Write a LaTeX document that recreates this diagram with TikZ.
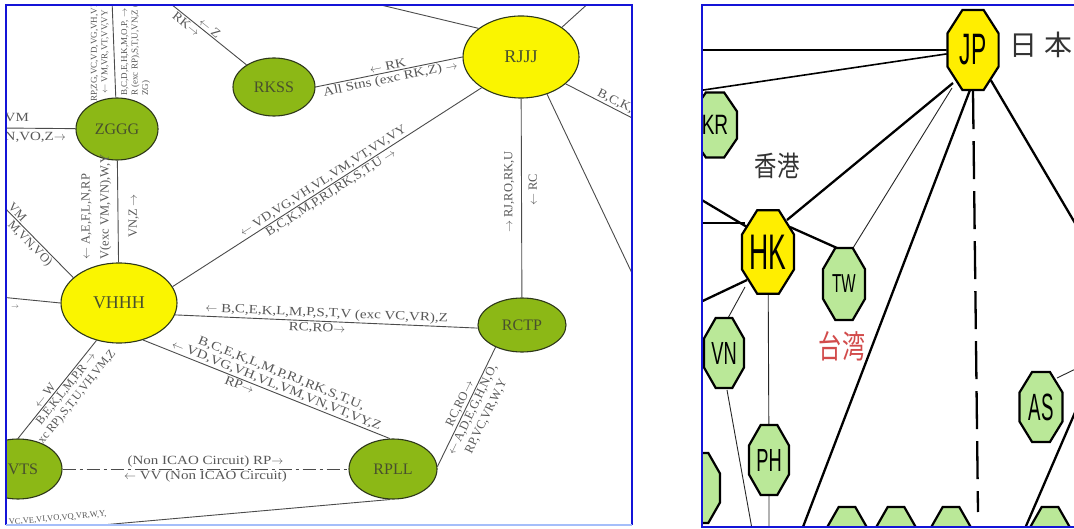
\documentclass[tikz,border=0pt]{standalone}
\usepackage{fontspec}
\setmainfont{Liberation Serif}
\newfontfamily\widefont{Liberation Serif}[FakeStretch=1.2]
\newfontfamily\midfont{Liberation Serif}[FakeStretch=1.1]
\newfontfamily\octfont{Liberation Sans}
\newfontfamily\cjkfont{Noto Sans CJK JP}
\usetikzlibrary{shapes.geometric,calc}
\pgfdeclarelayer{paper}
\pgfdeclarelayer{links}
\pgfsetlayers{paper,links,main}

\definecolor{frameblue}{RGB}{20,20,215}
\definecolor{framelight}{RGB}{165,190,250}
\definecolor{airyellow}{RGB}{250,245,0}
\definecolor{airgreen}{RGB}{140,184,22}
\definecolor{airedge}{RGB}{45,55,25}
\definecolor{airtext}{RGB}{72,80,45}
\definecolor{linkgray}{RGB}{75,75,75}
\definecolor{labelgray}{RGB}{88,88,88}
\definecolor{octyellow}{RGB}{255,238,0}
\definecolor{octgreen}{RGB}{186,232,152}
\definecolor{twred}{RGB}{210,75,75}

\newcommand{\arrL}{$\leftarrow$}
\newcommand{\arrR}{$\rightarrow$}

\begin{document}
\begin{tikzpicture}[x=1pt,y=-1pt,
  airport/.style={ellipse, draw=airedge, line width=1.1pt, inner sep=0pt, text=airtext},
  hub/.style={airport, fill=airyellow, font=\fontsize{18}{18}\selectfont},
  spoke/.style={airport, fill=airgreen, font=\fontsize{16}{16}\selectfont},
  link/.style={draw=linkgray, line width=0.9pt},
  lbl/.style={text=labelgray, font=\fontsize{12.5}{14}\selectfont, inner sep=1.5pt},
  lblw/.style={lbl, font=\widefont\fontsize{12.5}{14}\selectfont},
  lblm/.style={lbl, font=\midfont\fontsize{12.5}{14}\selectfont},
  smalllbl/.style={text=labelgray, font=\fontsize{9}{10.5}\selectfont, inner sep=1pt},
  octo/.style={regular polygon, regular polygon sides=8, draw=black, line width=2.2pt,
               inner sep=0pt, font=\octfont},
  octy/.style={octo, fill=octyellow},
  octg/.style={octo, fill=octgreen},
  thickline/.style={draw=black, line width=2.3pt},
  medline/.style={draw=black, line width=1.6pt},
  thinline/.style={draw=black!85, line width=0.9pt},
  cjktext/.style={font=\cjkfont\fontsize{28}{28}\selectfont, inner sep=0pt}
]
\useasboundingbox (0,0) rectangle (1074,529);
\begin{pgfonlayer}{paper}
\fill[white] (0,0) rectangle (1074,529);
\end{pgfonlayer}

% ---------------- route network of the left chart ----------------
\begin{scope}
\clip (6,5) rectangle (632,525);

\node[hub, minimum width=116pt, minimum height=82pt] (RJJJ) at (521,57) {RJJJ};
\node[spoke, minimum width=82pt, minimum height=58pt] (RKSS) at (274,87) {RKSS};
\node[spoke, minimum width=82pt, minimum height=62pt] (ZGGG) at (117,129) {ZGGG};
\node[hub, minimum width=116pt, minimum height=80pt] (VHHH) at (119,303) {VHHH};
\node[spoke, minimum width=88pt, minimum height=54pt] (RCTP) at (522,325) {RCTP};
\node[spoke, minimum width=88pt, minimum height=60pt] (RPLL) at (393,469) {RPLL};
\node[spoke, minimum width=88pt, minimum height=60pt] (VVTS) at (18,469) {};
\node[text=airtext, font=\fontsize{16}{16}\selectfont, inner sep=0pt] (VVTSname) at (23,469) {VTS};

% free ends leaving the chart
\coordinate (zgN) at (112,0);
\coordinate (zgW) at (0,128);
\coordinate (vhNW) at (0,203);
\coordinate (vhW) at (0,297);
\coordinate (rkNW) at (166,0);
\coordinate (rjNW) at (360,0);
\coordinate (rjNE) at (592,0);
\coordinate (rjE) at (640,122);
\coordinate (rjSE) at (640,290);
\coordinate (rpSW) at (0,534);

% ZGGG
\draw[link] (ZGGG) -- (zgN);
\node[smalllbl, rotate=90, anchor=south, align=center] (tg1) at (110,52)
  {RP,ZG,VC,VD,VG,VH,VL\\\arrL\ VM,VR,VT,VV,VY};
\node[smalllbl, rotate=90, anchor=north west, align=left] (tg2) at (120,97)
  {B,C,D,E,H,K,M,O,P, \arrR\\R (exc RP),S,T,U,VN,Z (exc\\ZG)};
\draw[link] (ZGGG) -- (zgW);
\node[lblw, anchor=west] (tg3) at (3,118) {VM};
\node[lblw, anchor=west] (tg4) at (3,137) {N,VO,Z\arrR};

\draw[link] (ZGGG) -- (VHHH);
\node[lbl, rotate=90, anchor=south west, align=left, font=\fontsize{12.5}{19}\selectfont] (tg5) at (113,261)
  {\arrL\ A,E,F,L,N,RP\\V(exc VM,VN),W,Y};
\node[lbl, rotate=90, anchor=north] (tg6) at (127,216) {VN,Z \arrR};

% VHHH
\draw[link] (VHHH.17) -- (RJJJ.218)
  node[lblm, midway, sloped, above] (tv1) {\arrL\ VD,VG,VH,VL,VM,VT,VV,VY}
  node[lblm, midway, sloped, below] (tv2) {B,C,K,M,P,RJ,RK,S,T,U \arrR};
\draw[link] (VHHH.-12) -- (RCTP.184)
  node[lblw, midway, sloped, above] (tv3) {\arrL\ B,C,E,K,L,M,P,S,T,V (exc VC,VR),Z}
  node[lblw, pos=0.47, sloped, below] (tv4) {RC,RO\arrR};
\draw[link] (VHHH.-57) -- (RPLL.96)
  node[lbl, pos=0.53, sloped, above, align=center, font=\widefont\fontsize{12.5}{13}\selectfont] (tv5)
    {B,C,E,K,L,M,P,RJ,RK,S,T,U,\\\arrL\ VD,VG,VH,VL,VM,VN,VT,VY,Z}
  node[lblw, pos=0.4, sloped, below] (tv6) {RP\arrR};
\draw[link] (VHHH.239) -- (VVTS.90)
  node[lbl, pos=0.6, sloped, above] (tv7) {\arrL\ W}
  node[lbl, pos=0.45, sloped, below, align=center, font=\fontsize{12}{13.5}\selectfont] (tv8)
    {B,E,K,L,M,P,R \arrR\\xc RP),S,T,U,VH,VM,Z};
\draw[link] (VHHH.151) -- (vhNW)
  node[lbl, pos=0.82, sloped, above] (tv9) {VM}
  node[lbl, pos=0.52, sloped, below] (tv10) {M,VN,VO)};
\draw[link] (VHHH.180) -- (vhW);
\node[smalllbl, font=\fontsize{7}{7}\selectfont] (tv11) at (15,307) {\arrR};

% RKSS
\draw[link] (RKSS) -- (rkNW)
  node[lblm, pos=0.5, sloped, above] (tk1) {\arrL\ Z}
  node[lblm, pos=0.7, sloped, below] (tk2) {RK\arrR};
\draw[link] (RKSS.east) -- (RJJJ.west)
  node[lblw, midway, sloped, above] (tk3) {\arrL\ RK}
  node[lblw, midway, sloped, below] (tk4) {All Stns (exc RK,Z) \arrR};

% RJJJ
\draw[link] (RJJJ.146) -- (rjNW);
\draw[link] (RJJJ.36) -- (rjNE);
\draw[link] (RJJJ.-31) -- (rjE)
  node[lblm, pos=0.37, sloped, anchor=south west] (tj1) {B,C,K,};
\draw[link] (RJJJ.-55) -- (rjSE);
\draw[link] (RJJJ) -- (RCTP);
\node[lbl, rotate=90, anchor=south] (tj2) at (516,192) {\arrR\ RJ,RO,RK,U};
\node[lbl, rotate=90, anchor=north] (tj3) at (527,190) {\arrL\ RC};

% RCTP -- RPLL
\draw[link] (RCTP.220) -- (RPLL.3)
  node[lbl, midway, sloped, above] (tc1) {RC,RO\arrR}
  node[lbl, midway, sloped, below, align=center, font=\fontsize{12.5}{15}\selectfont] (tc2)
    {\arrL\ A,D,E,G,H,N,O,\\RP,VC,VR,W,Y};

% RPLL
\draw[link, dash pattern=on 13pt off 4pt on 3pt off 4pt] (VVTS) -- (RPLL)
  node[lblw, midway, above] (tp1) {(Non ICAO Circuit) RP\arrR}
  node[lblw, midway, below] (tp2) {\arrL\ VV (Non ICAO Circuit)};
\draw[link] (RPLL.265) -- (rpSW)
  node[lbl, pos=0.85, sloped, above=5pt, font=\fontsize{8.5}{9}\selectfont] (tp3) {VC,VE,VI,VO,VQ,VR,W,Y,};
\end{scope}

% ---------------- regional chart on the right ----------------
\begin{scope}
\clip (702,5) rectangle (1074,527);
\node[octy, minimum size=86.6pt, xscale=0.64] (JP) at (973,50)
  {\fontsize{44}{44}\selectfont\scalebox{0.81}[1]{JP}};
\node[octg, minimum size=70.3pt, xscale=0.68] (KR) at (715,125)
  {\fontsize{28}{28}\selectfont KR};
\node[octy, minimum size=86.6pt, xscale=0.625] (HK) at (768,252)
  {\fontsize{50}{50}\selectfont\scalebox{0.85}[1]{HK}};
\node[octg, minimum size=77.9pt, xscale=0.583] (TW) at (844,284)
  {\fontsize{26}{26}\selectfont TW};
\node[octg, minimum size=75.8pt, xscale=0.571] (VN) at (724,353)
  {\fontsize{32}{32}\selectfont VN};
\node[octg, minimum size=75.8pt, xscale=0.571] (PH) at (769,460)
  {\fontsize{32}{32}\selectfont PH};
\node[octg, minimum size=75.8pt, xscale=0.614] (AS) at (1041,407)
  {\fontsize{38}{38}\selectfont\scalebox{0.8}[1]{AS}};
\node[octg, minimum size=75.8pt, xscale=0.571] (EDGE) at (700,488) {};
\node[octg, minimum size=75.8pt, xscale=0.571] (B1) at (847,542) {};
\node[octg, minimum size=75.8pt, xscale=0.571] (B2) at (896,542) {};
\node[octg, minimum size=75.8pt, xscale=0.571] (B3) at (951,542) {};
\node[octg, minimum size=75.8pt, xscale=0.571] (B4) at (1050,542) {};

\node[cjktext, text=black!80] (JPname) at (1041,45) {日\hspace{7pt}本};
\node[cjktext, text=black!80] (HKname) at (777,166) {\scalebox{0.8}[1]{香港}};
\node[cjktext, text=twred, font=\cjkfont\fontsize{32}{32}\selectfont] (TWname) at (842,346)
  {\scalebox{0.72}[1]{台湾}};

\coordinate (jpW) at (690,50);
\coordinate (jpW2) at (690,92);
\coordinate (jpS1) at (798,540);
\coordinate (jpS2) at (978,512);
\coordinate (jpE) at (1085,240);
\coordinate (hkW1) at (690,193);
\coordinate (hkW2) at (690,223);
\coordinate (hkW3) at (690,307);
\coordinate (phS) at (769,540);
\coordinate (vnS) at (754,540);
\coordinate (asE) at (1090,362);
\coordinate (sk1) at (1089,380);
\coordinate (sk2) at (1020,540);
\end{scope}

\begin{pgfonlayer}{links}
\begin{scope}
\clip (702,5) rectangle (1074,527);
\draw[medline] (JP) -- (jpW);
\draw[medline] (JP) -- (jpW2);
\draw[thickline] ($(HK)+(19,-32)$) -- ($(JP)+(-20,33)$);
\draw[thinline] ($(TW)+(9,-36)$) -- ($(JP)+(-21,38)$);
\draw[thickline] ($(JP)+(-3,40)$) -- (jpS1);
\draw[thickline, dash pattern=on 38pt off 12pt] (JP.south) -- (jpS2);
\draw[thickline] (JP) -- (jpE);
\draw[thickline] ($(HK)+(-21,-25)$) -- (hkW1);
\draw[medline] ($(HK)+(-23,-29)$) -- (hkW2);
\draw[thickline] ($(HK)+(22,-25)$) -- ($(TW)+(-7,-36)$);
\draw[thickline] ($(HK)+(-21,28)$) -- (hkW3);
\draw[thinline] ($(HK)+(-23,35)$) -- ($(VN)+(4,-35)$);
\draw[thinline] (HK) -- (PH);
\draw[thinline] (PH) -- (phS);
\draw[thinline] ($(VN)+(3,37)$) -- (vnS);
\draw[thinline] ($(AS)+(16,-29)$) -- (asE);
\draw[thickline] (sk1) -- (sk2);
\end{scope}
\end{pgfonlayer}

% ---------------- frames ----------------
\draw[frameblue, line width=2.4pt] (6,525) -- (6,5) -- (632,5) -- (632,525);
\draw[framelight, line width=1.4pt] (6,525) -- (632,525);
\draw[frameblue, line width=2.6pt] (1080,5) -- (702,5) -- (702,527) -- (1080,527);
\end{tikzpicture}
\end{document}
